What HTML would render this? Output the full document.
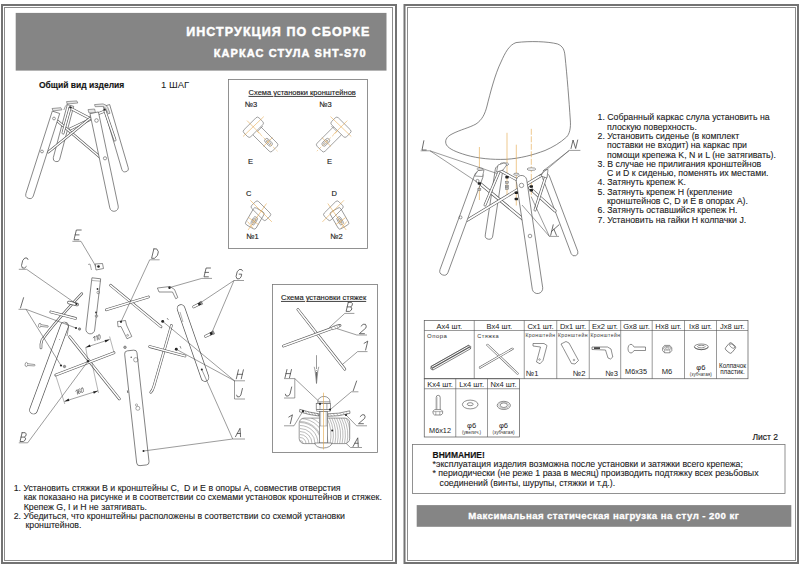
<!DOCTYPE html>
<html><head><meta charset="utf-8">
<style>
html,body{margin:0;padding:0;background:#fff;width:800px;height:565px;overflow:hidden}
svg{position:absolute;left:0;top:0;display:block}
text{font-family:"Liberation Sans",sans-serif;white-space:pre}
.t{font-size:8.77px;fill:#1a1a1a;stroke:#1a1a1a;stroke-width:0.1px}
.w{fill:#fff;font-weight:bold}
.k{stroke:#222;stroke-width:0.14px}
.t text{stroke:#1a1a1a;stroke-width:0.1px}
.lb{font-style:italic;fill:#3a3a3a}
.sm{font-size:5px;fill:#333}
.hd{font-size:7.6px;fill:#1a1a1a}
</style></head><body>
<svg width="800" height="565" viewBox="0 0 800 565">
<g fill="none">
<rect x="2" y="5" width="394" height="558" stroke="#737373" stroke-width="2"/>
<rect x="4.5" y="7.5" width="388" height="553" stroke="#8c8c8c" stroke-width="1"/>
<rect x="404.5" y="5" width="393.5" height="558" stroke="#737373" stroke-width="2"/>
<rect x="407.5" y="7.5" width="388" height="553" stroke="#8c8c8c" stroke-width="1"/>
</g>
<rect x="15.7" y="12.9" width="370.8" height="57.7" fill="#858585"/>
<text class="w" x="186.2" y="36.2" font-size="12.5" letter-spacing="1.07" stroke="#fff" stroke-width="0.45">ИНСТРУКЦИЯ ПО СБОРКЕ</text>
<text class="w" x="213.8" y="57.3" font-size="11" letter-spacing="1.07" stroke="#fff" stroke-width="0.45">КАРКАС СТУЛА SHT-S70</text>
<text class="k" x="39" y="88" font-size="8.5" font-weight="bold" fill="#111">Общий вид изделия</text>
<text x="161" y="88" font-size="9.5" fill="#1a1a1a">1 ШАГ</text>
<rect x="228.5" y="79.5" width="139" height="169" fill="none" stroke="#777" stroke-width="0.8"/>
<text class="k" x="248.6" y="95" font-size="7.5" fill="#222" text-decoration="underline">Схема установки кронштейнов</text>
<rect x="272.5" y="284.5" width="105" height="168" fill="none" stroke="#777" stroke-width="0.8"/>
<text class="k" x="281" y="300" font-size="7.5" fill="#222" text-decoration="underline">Схема установки стяжек</text>
<g class="t">
<text class="k" x="13.7" y="491">1. Установить стяжки В и кронштейны С,  D и Е в опоры А, совместив отверстия</text>
<text class="k" x="23.7" y="500.3">как показано на рисунке и в соответствии со схемами установок кронштейнов и стяжек.</text>
<text class="k" x="23.7" y="509.6">Крепеж G, I и H не затягивать.</text>
<text class="k" x="13.7" y="518.9">2. Убедиться, что кронштейны расположены в соответствии со схемой установки</text>
<text class="k" x="25.5" y="528.2">кронштейнов.</text>
</g>
<g class="t">
<text class="k" x="597.5" y="120.3">1. Собранный каркас слула установить на</text>
<text class="k" x="607" y="129.6">плоскую поверхность.</text>
<text class="k" x="597.5" y="138.9">2. Установить сиденье (в комплект</text>
<text class="k" x="607" y="148.2">поставки не входит) на каркас при</text>
<text class="k" x="607" y="157.5">помощи крепежа K, N и L (не затягивать).</text>
<text class="k" x="597.5" y="166.8">3. В случае не прилигания кронштейнов</text>
<text class="k" x="607" y="176.1">C и D к сиденью, поменять их местами.</text>
<text class="k" x="597.5" y="185.4">4. Затянуть крепеж K.</text>
<text class="k" x="597.5" y="194.7">5. Затянуть крепеж H (крепление</text>
<text class="k" x="607" y="204">кронштейнов C, D и E в опорах A).</text>
<text class="k" x="597.5" y="213.3">6. Затянуть оставшийся крепеж H.</text>
<text class="k" x="597.5" y="222.6">7. Установить на гайки H колпачки J.</text>
</g>
<text class="k" x="752.5" y="440" font-size="8.5" fill="#111">Лист 2</text>
<rect x="412.5" y="444.5" width="372.5" height="49" fill="none" stroke="#777" stroke-width="0.8"/>
<text class="k" x="432.5" y="457.5" font-size="8.5" font-weight="bold" fill="#111">ВНИМАНИЕ!</text>
<g class="t">
<text class="k" x="432.5" y="467">*эксплуатация изделия возможна после установки и затяжки всего крепежа;</text>
<text class="k" x="432.5" y="476.3">* периодически (не реже 1 раза в месяц) производить подтяжку всех резьбовых</text>
<text class="k" x="439.5" y="485.6">соединений (винты, шурупы, стяжки и т.д.).</text>
</g>
<rect x="416.7" y="505.1" width="374.6" height="21.7" fill="#858585"/>
<text class="w" x="468.2" y="518.8" font-size="9.6" letter-spacing="0.45" stroke="#fff" stroke-width="0.3">Максимальная статическая нагрузка на стул - 200 кг</text>

<g><path d="M67.31,104.66 L53.31,157.66 A3.30,3.30 0 0 0 59.69,159.34 L73.69,106.34 Z" fill="#fff" stroke="#555" stroke-width="0.7"/><path d="M103.33,106.43 L121.83,169.43 A3.30,3.30 0 0 0 128.17,167.57 L109.67,104.57 Z" fill="#fff" stroke="#555" stroke-width="0.7"/><line x1="70" y1="108" x2="90" y2="118.5" stroke="#555" stroke-width="2.80" stroke-linecap="round"/><line x1="70" y1="108" x2="90" y2="118.5" stroke="#fff" stroke-width="1.60" stroke-linecap="round"/><line x1="70" y1="129" x2="90" y2="119.5" stroke="#555" stroke-width="2.80" stroke-linecap="round"/><line x1="70" y1="129" x2="90" y2="119.5" stroke="#fff" stroke-width="1.60" stroke-linecap="round"/><line x1="57.5" y1="121" x2="101" y2="158" stroke="#555" stroke-width="2.80" stroke-linecap="round"/><line x1="57.5" y1="121" x2="101" y2="158" stroke="#fff" stroke-width="1.60" stroke-linecap="round"/><line x1="48.5" y1="152" x2="91" y2="117.5" stroke="#555" stroke-width="2.80" stroke-linecap="round"/><line x1="48.5" y1="152" x2="91" y2="117.5" stroke="#fff" stroke-width="1.60" stroke-linecap="round"/><line x1="91" y1="116.5" x2="105" y2="111" stroke="#555" stroke-width="2.80" stroke-linecap="round"/><line x1="91" y1="116.5" x2="105" y2="111" stroke="#fff" stroke-width="1.60" stroke-linecap="round"/><line x1="105" y1="111" x2="115" y2="140" stroke="#555" stroke-width="2.80" stroke-linecap="round"/><line x1="105" y1="111" x2="115" y2="140" stroke="#fff" stroke-width="1.60" stroke-linecap="round"/><line x1="70" y1="108" x2="63" y2="133" stroke="#555" stroke-width="2.80" stroke-linecap="round"/><line x1="70" y1="108" x2="63" y2="133" stroke="#fff" stroke-width="1.60" stroke-linecap="round"/><path d="M52.29,111.11 L25.89,193.61 A3.90,3.90 0 0 0 33.31,195.99 L59.71,113.49 Z" fill="#fff" stroke="#555" stroke-width="0.7"/><path d="M89.99,113.68 L109.79,207.88 A4.30,4.30 0 0 0 118.21,206.12 L98.41,111.92 Z" fill="#fff" stroke="#555" stroke-width="0.7"/><circle cx="54" cy="118.5" r="1.4" stroke="#555" stroke-width="0.6" fill="none"/><circle cx="42" cy="151.5" r="1.4" stroke="#555" stroke-width="0.6" fill="none"/><circle cx="96.5" cy="120.5" r="1.8" stroke="#555" stroke-width="0.6" fill="none"/><circle cx="105" cy="158.3" r="1.6" stroke="#555" stroke-width="0.6" fill="none"/><path d="M52,108.5 L60.8,107.7 L62,109.8 L53.2,111 Z" fill="#e6e6e6" stroke="#555" stroke-width="0.55"/><path d="M66.5,101.6 L76.8,100.9 L77.8,103 L67.2,104 Z" fill="#e6e6e6" stroke="#555" stroke-width="0.55"/><path d="M67.5,103.8 Q65,106 63.8,110" fill="none" stroke="#555" stroke-width="0.55"/><path d="M88,109.6 L94.6,109 L95.4,112.4 L89,113 Z" fill="#e6e6e6" stroke="#555" stroke-width="0.55"/><path d="M94.5,104.6 L103,103.9 Q106.5,104.5 107.8,107.5 L110,113.3 L108.2,113.8 L105.6,108.3 Q104.5,106.3 102,106.5 L95.2,106.7 Z" fill="#e6e6e6" stroke="#555" stroke-width="0.55"/><circle cx="70.5" cy="107.5" r="1.1" fill="#222"/><circle cx="104.5" cy="109.5" r="1.1" fill="#222"/></g>
<g><line x1="64.5" y1="326" x2="33.5" y2="410" stroke="#555" stroke-width="8.60" stroke-linecap="round"/><line x1="64.5" y1="326" x2="33.5" y2="410" stroke="#fff" stroke-width="7.20" stroke-linecap="round"/><line x1="60" y1="339" x2="59" y2="340" stroke="#666" stroke-width="0.5" /><path d="M91.93,277.79 L85.93,328.99 A4.40,4.40 0 0 0 94.67,330.01 L100.67,278.81 Z" fill="#fff" stroke="#555" stroke-width="0.7"/><line x1="92" y1="280.5" x2="100.8" y2="281.2" stroke="#666" stroke-width="0.5" /><circle cx="97.5" cy="289" r="0.9" fill="#333"/><circle cx="98.2" cy="292.5" r="1.3" stroke="#555" stroke-width="0.5" fill="none"/><circle cx="96" cy="312.5" r="0.9" fill="#333"/><circle cx="96.5" cy="316" r="1.3" stroke="#555" stroke-width="0.5" fill="none"/><polyline points="95,264 102.5,263.5 103.5,268.5 96,270 95,264" stroke="#444" stroke-width="0.6" fill="#fff" /><circle cx="98.5" cy="266.5" r="1.3" fill="#222"/><polyline points="88,264.5 90,264 91.5,270" stroke="#555" stroke-width="0.5" fill="none" /><path d="M81.8,293.6 Q55,322 42,340 Q40.5,344 41,348" fill="none" stroke="#555" stroke-width="2.6" stroke-linecap="round"/><path d="M81.8,293.6 Q55,322 42,340 Q40.5,344 41,348" fill="none" stroke="#fff" stroke-width="1.3" stroke-linecap="round"/><path d="M65,322.5 Q68.5,324 68.6,327 L67,336" fill="none" stroke="#555" stroke-width="0.6"/><line x1="69" y1="302.5" x2="77" y2="304.5" stroke="#555" stroke-width="3.60" stroke-linecap="round"/><line x1="69" y1="302.5" x2="77" y2="304.5" stroke="#fff" stroke-width="2.20" stroke-linecap="round"/><circle cx="76.4" cy="304" r="1.1" fill="#222"/><line x1="50.8" y1="312" x2="75.6" y2="318.4" stroke="#555" stroke-width="2.70" stroke-linecap="round"/><line x1="50.8" y1="312" x2="75.6" y2="318.4" stroke="#fff" stroke-width="1.50" stroke-linecap="round"/><g transform="rotate(8 38.6 325.2)"><ellipse cx="39.800000000000004" cy="325.2" rx="1.3" ry="2.1" fill="#fff" stroke="#555" stroke-width="0.55"/><path d="M41.0,324.3 L48.1,324.5 Q48.7,325.2 48.1,325.9 L41.0,326.09999999999997" fill="#fff" stroke="#555" stroke-width="0.55"/></g><g transform="rotate(5 25.2 364.4)"><ellipse cx="26.4" cy="364.4" rx="1.3" ry="2.1" fill="#fff" stroke="#555" stroke-width="0.55"/><path d="M27.599999999999998,363.5 L34.7,363.7 Q35.300000000000004,364.4 34.7,365.09999999999997 L27.599999999999998,365.29999999999995" fill="#fff" stroke="#555" stroke-width="0.55"/></g><circle cx="76" cy="328" r="1.1" fill="#222"/><circle cx="79.5" cy="329" r="1.2" stroke="#555" stroke-width="0.5" fill="#999"/><circle cx="61" cy="365.5" r="1.1" fill="#222"/><circle cx="64.5" cy="366.5" r="1.2" stroke="#555" stroke-width="0.5" fill="#999"/><line x1="69.7" y1="336.8" x2="119.3" y2="398.8" stroke="#555" stroke-width="2.80" stroke-linecap="round"/><line x1="69.7" y1="336.8" x2="119.3" y2="398.8" stroke="#fff" stroke-width="1.60" stroke-linecap="round"/><line x1="55.8" y1="375" x2="114" y2="352.7" stroke="#555" stroke-width="2.80" stroke-linecap="round"/><line x1="55.8" y1="375" x2="114" y2="352.7" stroke="#fff" stroke-width="1.60" stroke-linecap="round"/><circle cx="88" cy="361.2" r="1.2" fill="#222"/><line x1="85.7" y1="347.4" x2="109.6" y2="339.5" stroke="#444" stroke-width="0.5" /><line x1="85.7" y1="347.4" x2="88" y2="361.2" stroke="#444" stroke-width="0.4" /><line x1="109.6" y1="336.5" x2="114" y2="352.7" stroke="#444" stroke-width="0.4" /><path d="M85.7,347.4 l5,-0.6 l-0.9,-2.3 z M109.6,339.5 l-5,0.6 l0.9,2.3 z" fill="#222"/><g transform="rotate(-18 93.5 341.2)"><path d="M94.29,337.90 L96.10,336.80 L95.04,341.20 " fill="none" stroke="#3c3c3c" stroke-width="0.55" stroke-linejoin="round" stroke-linecap="round"/><path d="M96.80,337.90 L98.60,336.80 L97.55,341.20 " fill="none" stroke="#3c3c3c" stroke-width="0.55" stroke-linejoin="round" stroke-linecap="round"/><path d="M100.67,336.80 L101.45,337.24 L101.40,338.34 L101.09,339.66 L100.60,340.76 L99.62,341.20 L98.84,340.76 L98.89,339.66 L99.20,338.34 L99.69,337.24 L100.67,336.80 " fill="none" stroke="#3c3c3c" stroke-width="0.55" stroke-linejoin="round" stroke-linecap="round"/></g><line x1="64.4" y1="401.4" x2="98" y2="390.8" stroke="#444" stroke-width="0.5" /><line x1="55.4" y1="374.5" x2="64.8" y2="404" stroke="#444" stroke-width="0.4" /><line x1="91.9" y1="363" x2="98.5" y2="393" stroke="#444" stroke-width="0.4" /><path d="M64.4,401.4 l5,-0.5 l-0.8,-2.3 z M98,390.8 l-5,0.6 l0.9,2.3 z" fill="#222"/><g transform="rotate(-18 76 394.6)"><path d="M76.79,391.30 L78.60,390.20 L77.54,394.60 " fill="none" stroke="#3c3c3c" stroke-width="0.55" stroke-linejoin="round" stroke-linecap="round"/><path d="M81.55,390.64 L80.88,390.20 L80.17,390.42 L79.30,391.74 L78.82,393.28 L78.89,394.38 L79.61,394.60 L80.57,394.25 L81.02,393.28 L80.91,392.40 L80.19,392.18 L79.31,392.62 L78.82,393.28 " fill="none" stroke="#3c3c3c" stroke-width="0.55" stroke-linejoin="round" stroke-linecap="round"/><path d="M83.83,390.20 L84.61,390.64 L84.56,391.74 L84.25,393.06 L83.76,394.16 L82.78,394.60 L82.00,394.16 L82.05,393.06 L82.36,391.74 L82.85,390.64 L83.83,390.20 " fill="none" stroke="#3c3c3c" stroke-width="0.55" stroke-linejoin="round" stroke-linecap="round"/></g><line x1="110.6" y1="285.3" x2="161" y2="326.8" stroke="#555" stroke-width="2.70" stroke-linecap="round"/><line x1="110.6" y1="285.3" x2="161" y2="326.8" stroke="#fff" stroke-width="1.50" stroke-linecap="round"/><line x1="106.4" y1="309.8" x2="148.4" y2="297" stroke="#555" stroke-width="2.70" stroke-linecap="round"/><line x1="106.4" y1="309.8" x2="148.4" y2="297" stroke="#fff" stroke-width="1.50" stroke-linecap="round"/><path d="M117.5,321.5 L125.5,320.5 L126.5,325 L131.8,336.5 L127,338.8 L121,326.5 L118,326.8 Z" fill="#fff" stroke="#444" stroke-width="0.6"/><circle cx="121" cy="321.8" r="1.1" fill="#222"/><circle cx="127.6" cy="335.3" r="0.9" stroke="#555" stroke-width="0.5" fill="none"/><path d="M157.4,288 L170,286.5 L174.5,289.5 L177.8,297.5 L175.8,298.8 L172.5,292 L159,292 Z" fill="#fff" stroke="#444" stroke-width="0.6"/><circle cx="169.5" cy="287.8" r="1.2" fill="#222"/><line x1="181" y1="308.5" x2="205" y2="377.5" stroke="#555" stroke-width="8.40" stroke-linecap="round"/><line x1="181" y1="308.5" x2="205" y2="377.5" stroke="#fff" stroke-width="7.00" stroke-linecap="round"/><line x1="180" y1="312" x2="183" y2="322" stroke="#666" stroke-width="0.5" /><circle cx="201.8" cy="369.6" r="1" fill="#222"/><line x1="193.8" y1="306.8" x2="198.25021682429335" y2="304.52062065097175" stroke="#555" stroke-width="2.90" stroke-linecap="round"/><line x1="193.8" y1="306.8" x2="198.25021682429335" y2="304.52062065097175" stroke="#fff" stroke-width="1.80" stroke-linecap="round"/><rect x="198.80" y="305.30" width="2.6" height="3" fill="#222" transform="rotate(-27.1 193.8 306.8)"/><rect x="201.40" y="305.10" width="1.6" height="3.4" fill="#999" stroke="#555" stroke-width="0.4" transform="rotate(-27.1 193.8 306.8)"/><line x1="205.6" y1="336.2" x2="210.12941176470588" y2="334.08235294117645" stroke="#555" stroke-width="2.90" stroke-linecap="round"/><line x1="205.6" y1="336.2" x2="210.12941176470588" y2="334.08235294117645" stroke="#fff" stroke-width="1.80" stroke-linecap="round"/><rect x="210.60" y="334.70" width="2.6" height="3" fill="#222" transform="rotate(-25.1 205.6 336.2)"/><rect x="213.20" y="334.50" width="1.6" height="3.4" fill="#999" stroke="#555" stroke-width="0.4" transform="rotate(-25.1 205.6 336.2)"/><path d="M171.4,325.5 L153.8,386.5 Q152.6,390.5 150.8,392.3" fill="none" stroke="#555" stroke-width="2.7" stroke-linecap="round"/><path d="M171.4,325.5 L153.8,386.5 Q152.6,390.5 150.8,392.3" fill="none" stroke="#fff" stroke-width="1.5" stroke-linecap="round"/><circle cx="162.7" cy="321.4" r="1.45" fill="#222"/><line x1="167" y1="318" x2="168.5" y2="320" stroke="#444" stroke-width="0.6" /><line x1="149.7" y1="346.6" x2="185" y2="356" stroke="#555" stroke-width="2.80" stroke-linecap="round"/><line x1="149.7" y1="346.6" x2="185" y2="356" stroke="#fff" stroke-width="1.60" stroke-linecap="round"/><circle cx="176.3" cy="349.3" r="1.45" fill="#222"/><line x1="180" y1="346" x2="181" y2="348.5" stroke="#444" stroke-width="0.6" /><rect x="130.50" y="344.30" width="115.50" height="12.4" rx="3" transform="rotate(83.69 130.5 350.5)" fill="#fff" stroke="#555" stroke-width="0.7"/><circle cx="125" cy="347.3" r="1.3" stroke="#555" stroke-width="0.5" fill="#aaa"/><circle cx="135.8" cy="359.8" r="2.2" stroke="#555" stroke-width="0.5" fill="none"/><circle cx="131.2" cy="357.2" r="0.7" fill="#444"/><line x1="127.4" y1="390.5" x2="127.9" y2="393" stroke="#444" stroke-width="0.8" /><circle cx="137.8" cy="408.3" r="2" stroke="#555" stroke-width="0.5" fill="none"/><circle cx="136.5" cy="405" r="1.1" stroke="#555" stroke-width="0.45" fill="none"/><circle cx="143.5" cy="451" r="1" fill="#222"/><path d="M81.22,230.00 L76.34,230.00 L74.00,239.75 L78.88,239.75 M75.17,234.88 L79.07,234.88 " fill="none" stroke="#3c3c3c" stroke-width="0.75" stroke-linejoin="round" stroke-linecap="round"/><line x1="72.4" y1="241.3" x2="81" y2="241.3" stroke="#4a4a4a" stroke-width="0.55" /><line x1="81" y1="241.3" x2="96" y2="266.5" stroke="#4a4a4a" stroke-width="0.55" /><path d="M27.94,259.50 L27.05,258.00 L24.80,258.00 L22.70,260.50 L21.50,265.50 L22.40,268.00 L24.65,268.00 L26.26,266.50 " fill="none" stroke="#3c3c3c" stroke-width="0.75" stroke-linejoin="round" stroke-linecap="round"/><line x1="18.8" y1="269.3" x2="26.6" y2="269.3" stroke="#4a4a4a" stroke-width="0.55" /><line x1="26.6" y1="269.3" x2="76.4" y2="304" stroke="#4a4a4a" stroke-width="0.55" /><path d="M23.56,297.70 L20.50,307.90 " fill="none" stroke="#3c3c3c" stroke-width="0.75" stroke-linejoin="round" stroke-linecap="round"/><line x1="18.5" y1="309.3" x2="26" y2="309.3" stroke="#4a4a4a" stroke-width="0.55" /><line x1="26" y1="309.3" x2="76" y2="328" stroke="#4a4a4a" stroke-width="0.55" /><line x1="26" y1="309.3" x2="61" y2="365.5" stroke="#4a4a4a" stroke-width="0.55" /><path d="M153.86,248.90 L151.60,258.30 L154.44,258.30 L157.45,255.48 L158.35,251.72 L156.70,248.90 L153.86,248.90 " fill="none" stroke="#3c3c3c" stroke-width="0.75" stroke-linejoin="round" stroke-linecap="round"/><line x1="149.7" y1="259.8" x2="159.6" y2="259.8" stroke="#4a4a4a" stroke-width="0.55" /><line x1="149.7" y1="259.8" x2="121" y2="321.8" stroke="#4a4a4a" stroke-width="0.55" /><path d="M210.51,268.00 L206.11,268.00 L204.00,276.80 L208.40,276.80 M205.06,272.40 L208.58,272.40 " fill="none" stroke="#3c3c3c" stroke-width="0.75" stroke-linejoin="round" stroke-linecap="round"/><line x1="201.8" y1="278.4" x2="212" y2="278.4" stroke="#4a4a4a" stroke-width="0.55" /><line x1="201.8" y1="278.4" x2="169.5" y2="287.6" stroke="#4a4a4a" stroke-width="0.55" /><path d="M242.51,270.89 L241.57,269.50 L239.27,269.50 L237.17,271.82 L236.06,276.48 L237.03,278.80 L239.34,278.80 L241.06,276.94 L241.73,274.15 L239.17,274.15 " fill="none" stroke="#3c3c3c" stroke-width="0.75" stroke-linejoin="round" stroke-linecap="round"/><line x1="234" y1="280.5" x2="244" y2="280.5" stroke="#4a4a4a" stroke-width="0.55" /><line x1="234" y1="280.5" x2="198" y2="304.4" stroke="#4a4a4a" stroke-width="0.55" /><line x1="234" y1="280.5" x2="211.7" y2="333" stroke="#4a4a4a" stroke-width="0.55" /><path d="M238.46,369.80 L236.30,378.80 M243.41,369.80 L241.25,378.80 M237.38,374.30 L242.33,374.30 " fill="none" stroke="#3c3c3c" stroke-width="0.75" stroke-linejoin="round" stroke-linecap="round"/><line x1="234" y1="380.8" x2="245" y2="380.8" stroke="#4a4a4a" stroke-width="0.55" /><line x1="234.5" y1="380.8" x2="162.7" y2="321.4" stroke="#4a4a4a" stroke-width="0.55" /><line x1="234.5" y1="380.8" x2="176.3" y2="349.3" stroke="#4a4a4a" stroke-width="0.55" /><path d="M242.44,388.50 L240.89,394.97 L239.41,396.80 L237.34,396.80 L236.70,395.14 " fill="none" stroke="#3c3c3c" stroke-width="0.75" stroke-linejoin="round" stroke-linecap="round"/><line x1="234.5" y1="380.8" x2="234.5" y2="399" stroke="#4a4a4a" stroke-width="0.55" /><line x1="234.5" y1="399" x2="245" y2="399" stroke="#4a4a4a" stroke-width="0.55" /><path d="M235.50,436.70 L240.04,428.30 L240.54,436.70 M237.27,433.51 L240.30,433.51 " fill="none" stroke="#3c3c3c" stroke-width="0.75" stroke-linejoin="round" stroke-linecap="round"/><line x1="232.7" y1="439" x2="245" y2="439" stroke="#4a4a4a" stroke-width="0.55" /><line x1="232.7" y1="439" x2="201.8" y2="369.6" stroke="#4a4a4a" stroke-width="0.55" /><line x1="232.7" y1="439" x2="143.5" y2="451" stroke="#4a4a4a" stroke-width="0.55" /><path d="M22.11,432.70 L20.00,441.50 L23.39,441.50 L25.16,440.18 L25.64,438.16 L24.44,437.10 L21.06,437.10 M24.44,437.10 L25.76,436.04 L26.25,434.02 L25.26,432.70 L22.11,432.70 " fill="none" stroke="#3c3c3c" stroke-width="0.75" stroke-linejoin="round" stroke-linecap="round"/><line x1="18.8" y1="442.8" x2="27.7" y2="442.8" stroke="#4a4a4a" stroke-width="0.55" /><line x1="27.7" y1="442.8" x2="88" y2="361.2" stroke="#4a4a4a" stroke-width="0.55" /></g>
<g><rect x="251.70" y="133.55" width="27" height="11.3" rx="2.2" transform="rotate(45 265.2 139.2)" stroke="#6a6a6a" stroke-width="0.6" fill="none"/><rect x="242.70" y="122.40" width="21.3" height="9.7" rx="2.2" transform="rotate(-45 253.35 127.25)" stroke="#6a6a6a" stroke-width="0.6" fill="#fff"/><line x1="257.5" y1="131.5" x2="263" y2="126" stroke="#6a6a6a" stroke-width="0.5" /><rect x="264.00" y="140.10" width="9" height="4.4" rx="2.2" transform="rotate(45 268.5 142.3)" stroke="#6a6a6a" stroke-width="0.6" fill="none"/><rect x="266.00" y="141.30" width="5" height="2" rx="1" transform="rotate(45 268.5 142.3)" stroke="#6a6a6a" stroke-width="0.6" fill="none"/><line x1="243" y1="136.5" x2="263.8" y2="116.6" stroke="#e3a443" stroke-width="0.55"/><line x1="247" y1="120.6" x2="260.7" y2="134.3" stroke="#e3a443" stroke-width="0.55"/><line x1="257" y1="131.2" x2="277.5" y2="151.2" stroke="#e3a443" stroke-width="0.5" stroke-dasharray="3,1.5"/><line x1="263.3" y1="146.5" x2="272.5" y2="137.5" stroke="#e3a443" stroke-width="0.55"/><rect x="245.05" y="212.40" width="19.5" height="12" rx="2.2" transform="rotate(120 254.8 218.4)" stroke="#6a6a6a" stroke-width="0.6" fill="none"/><rect x="250.65" y="205.90" width="20.5" height="9.7" rx="2.2" transform="rotate(45 260.9 210.75)" stroke="#6a6a6a" stroke-width="0.6" fill="none"/><rect x="249.90" y="218.70" width="8.6" height="4.2" rx="2.1" transform="rotate(120 254.2 220.8)" stroke="#6a6a6a" stroke-width="0.6" fill="none"/><rect x="251.80" y="219.90" width="4.8" height="1.8" rx="0.9" transform="rotate(120 254.2 220.8)" stroke="#6a6a6a" stroke-width="0.6" fill="none"/><line x1="248.1" y1="230" x2="266.5" y2="203.5" stroke="#e3a443" stroke-width="0.55"/><line x1="250.3" y1="200.3" x2="271.9" y2="221.9" stroke="#e3a443" stroke-width="0.55"/><line x1="248.5" y1="217.5" x2="258.5" y2="224.5" stroke="#e3a443" stroke-width="0.55"/><line x1="247.5" y1="221.5" x2="253" y2="228" stroke="#e3a443" stroke-width="0.55"/></g>
<g transform="matrix(-1,0,0,1,594.3,0)"><rect x="251.70" y="133.55" width="27" height="11.3" rx="2.2" transform="rotate(45 265.2 139.2)" stroke="#6a6a6a" stroke-width="0.6" fill="none"/><rect x="242.70" y="122.40" width="21.3" height="9.7" rx="2.2" transform="rotate(-45 253.35 127.25)" stroke="#6a6a6a" stroke-width="0.6" fill="#fff"/><line x1="257.5" y1="131.5" x2="263" y2="126" stroke="#6a6a6a" stroke-width="0.5" /><rect x="264.00" y="140.10" width="9" height="4.4" rx="2.2" transform="rotate(45 268.5 142.3)" stroke="#6a6a6a" stroke-width="0.6" fill="none"/><rect x="266.00" y="141.30" width="5" height="2" rx="1" transform="rotate(45 268.5 142.3)" stroke="#6a6a6a" stroke-width="0.6" fill="none"/><line x1="243" y1="136.5" x2="263.8" y2="116.6" stroke="#e3a443" stroke-width="0.55"/><line x1="247" y1="120.6" x2="260.7" y2="134.3" stroke="#e3a443" stroke-width="0.55"/><line x1="257" y1="131.2" x2="277.5" y2="151.2" stroke="#e3a443" stroke-width="0.5" stroke-dasharray="3,1.5"/><line x1="263.3" y1="146.5" x2="272.5" y2="137.5" stroke="#e3a443" stroke-width="0.55"/><rect x="245.05" y="212.40" width="19.5" height="12" rx="2.2" transform="rotate(120 254.8 218.4)" stroke="#6a6a6a" stroke-width="0.6" fill="none"/><rect x="250.65" y="205.90" width="20.5" height="9.7" rx="2.2" transform="rotate(45 260.9 210.75)" stroke="#6a6a6a" stroke-width="0.6" fill="none"/><rect x="249.90" y="218.70" width="8.6" height="4.2" rx="2.1" transform="rotate(120 254.2 220.8)" stroke="#6a6a6a" stroke-width="0.6" fill="none"/><rect x="251.80" y="219.90" width="4.8" height="1.8" rx="0.9" transform="rotate(120 254.2 220.8)" stroke="#6a6a6a" stroke-width="0.6" fill="none"/><line x1="248.1" y1="230" x2="266.5" y2="203.5" stroke="#e3a443" stroke-width="0.55"/><line x1="250.3" y1="200.3" x2="271.9" y2="221.9" stroke="#e3a443" stroke-width="0.55"/><line x1="248.5" y1="217.5" x2="258.5" y2="224.5" stroke="#e3a443" stroke-width="0.55"/><line x1="247.5" y1="221.5" x2="253" y2="228" stroke="#e3a443" stroke-width="0.55"/></g>
<g font-size="7.5" fill="#1a1a1a" class="k"><text class="k" x="245" y="107">№3</text><text class="k" x="319.5" y="107">№3</text><text class="k" x="248" y="164">E</text><text class="k" x="327" y="164">E</text><text class="k" x="246" y="196">C</text><text class="k" x="331.5" y="196">D</text><text class="k" x="246.5" y="239">№1</text><text class="k" x="330.5" y="239">№2</text></g>
<defs><clipPath id="wb"><rect x="299.2" y="418.1" width="50.5" height="25.5" rx="5"/></clipPath></defs>
<g><line x1="297.9" y1="309.5" x2="344.8" y2="369.2" stroke="#555" stroke-width="2.80" stroke-linecap="round"/><line x1="297.9" y1="309.5" x2="344.8" y2="369.2" stroke="#fff" stroke-width="1.60" stroke-linecap="round"/><line x1="283.5" y1="346" x2="340" y2="325.4" stroke="#555" stroke-width="2.80" stroke-linecap="round"/><line x1="283.5" y1="346" x2="340" y2="325.4" stroke="#fff" stroke-width="1.60" stroke-linecap="round"/><path d="M331,327.5 l6,-2.6 l3.2,0.4 l-1.5,2.6 l-6,1.8 z" fill="#fff" stroke="#555" stroke-width="0.5"/><line x1="334" y1="325.5" x2="336" y2="329" stroke="#555" stroke-width="0.4" /><line x1="336.5" y1="324.8" x2="338" y2="328" stroke="#555" stroke-width="0.4" /><path d="M348.26,302.40 L346.10,311.40 L349.56,311.40 L351.37,310.05 L351.87,307.98 L350.64,306.90 L347.18,306.90 M350.64,306.90 L351.99,305.82 L352.49,303.75 L351.48,302.40 L348.26,302.40 " fill="none" stroke="#3c3c3c" stroke-width="0.75" stroke-linejoin="round" stroke-linecap="round"/><line x1="344.8" y1="313.4" x2="354.4" y2="313.4" stroke="#4a4a4a" stroke-width="0.55" /><line x1="344.8" y1="313.4" x2="329" y2="327.8" stroke="#4a4a4a" stroke-width="0.55" /><path d="M361.10,326.18 L363.11,324.30 L365.43,324.30 L366.27,326.18 L365.82,328.06 L359.30,333.70 L364.47,333.70 " fill="none" stroke="#3c3c3c" stroke-width="0.75" stroke-linejoin="round" stroke-linecap="round"/><line x1="356.8" y1="335" x2="367" y2="335" stroke="#4a4a4a" stroke-width="0.55" /><line x1="356.8" y1="335" x2="336.9" y2="328.6" stroke="#4a4a4a" stroke-width="0.55" /><path d="M364.10,343.33 L367.75,341.10 L365.62,350.00 " fill="none" stroke="#3c3c3c" stroke-width="0.75" stroke-linejoin="round" stroke-linecap="round"/><line x1="357.6" y1="351.6" x2="367.5" y2="351.6" stroke="#4a4a4a" stroke-width="0.55" /><line x1="357.6" y1="351.6" x2="342.5" y2="364.4" stroke="#4a4a4a" stroke-width="0.55" /><line x1="316.5" y1="355.2" x2="316.5" y2="369" stroke="#555" stroke-width="0.6" /><path d="M314.2,366.8 Q314.8,369 315.2,371.5 L316.5,383.5 L317.8,371.5 Q318.2,369 318.8,366.8 M315.2,371.5 Q316.5,369.5 317.8,371.5" fill="none" stroke="#555" stroke-width="0.55"/><path d="M315.6,372 L316.5,383.5 L317.4,372 Z" fill="#666"/><path d="M286.97,369.50 L285.00,377.70 M291.48,369.50 L289.51,377.70 M285.98,373.60 L290.49,373.60 " fill="none" stroke="#3c3c3c" stroke-width="0.75" stroke-linejoin="round" stroke-linecap="round"/><line x1="284" y1="378.6" x2="294.8" y2="378.6" stroke="#4a4a4a" stroke-width="0.55" /><line x1="294.8" y1="378.6" x2="320.4" y2="402.8" stroke="#4a4a4a" stroke-width="0.55" /><path d="M291.66,387.00 L289.98,394.02 L288.38,396.00 L286.12,396.00 L285.43,394.20 " fill="none" stroke="#3c3c3c" stroke-width="0.75" stroke-linejoin="round" stroke-linecap="round"/><line x1="294.8" y1="378.6" x2="294.8" y2="398" stroke="#4a4a4a" stroke-width="0.55" /><line x1="284" y1="398" x2="294.8" y2="398" stroke="#4a4a4a" stroke-width="0.55" /><path d="M356.63,381.00 L353.20,390.80 " fill="none" stroke="#3c3c3c" stroke-width="0.75" stroke-linejoin="round" stroke-linecap="round"/><line x1="351.3" y1="391.8" x2="358.4" y2="391.8" stroke="#4a4a4a" stroke-width="0.55" /><line x1="351.3" y1="391.8" x2="330" y2="409.8" stroke="#4a4a4a" stroke-width="0.55" /><path d="M288.80,417.03 L292.45,414.80 L290.31,423.70 " fill="none" stroke="#3c3c3c" stroke-width="0.75" stroke-linejoin="round" stroke-linecap="round"/><line x1="284" y1="425.8" x2="294" y2="425.8" stroke="#4a4a4a" stroke-width="0.55" /><line x1="294" y1="425.8" x2="302.7" y2="411.5" stroke="#4a4a4a" stroke-width="0.55" /><path d="M360.21,416.58 L362.10,414.80 L364.31,414.80 L365.10,416.58 L364.68,418.36 L358.50,423.70 L363.39,423.70 " fill="none" stroke="#3c3c3c" stroke-width="0.75" stroke-linejoin="round" stroke-linecap="round"/><line x1="356.6" y1="425.8" x2="367" y2="425.8" stroke="#4a4a4a" stroke-width="0.55" /><line x1="356.6" y1="425.8" x2="346" y2="415" stroke="#4a4a4a" stroke-width="0.55" /><path d="M353.00,446.60 L357.75,437.80 L358.28,446.60 M354.86,443.26 L358.03,443.26 " fill="none" stroke="#3c3c3c" stroke-width="0.75" stroke-linejoin="round" stroke-linecap="round"/><line x1="350.5" y1="447.5" x2="362" y2="447.5" stroke="#4a4a4a" stroke-width="0.55" /><line x1="350.5" y1="447.5" x2="332.2" y2="430.4" stroke="#4a4a4a" stroke-width="0.55" /><rect x="299.2" y="418.1" width="50.5" height="25.5" rx="5" fill="#fff" stroke="#555" stroke-width="0.6"/><path d="M300.0,440.5 A3,3 0 0 1 303.0,443.5" fill="none" stroke="#666" stroke-width="0.45" transform="translate(0,0)"/><path d="M300.0,437.5 A6,6 0 0 1 306.0,443.5" fill="none" stroke="#666" stroke-width="0.45" transform="translate(0,0)"/><path d="M300.0,434.5 A9,9 0 0 1 309.0,443.5" fill="none" stroke="#666" stroke-width="0.45" transform="translate(0,0)"/><path d="M300.0,431.5 A12,12 0 0 1 312.0,443.5" fill="none" stroke="#666" stroke-width="0.45" transform="translate(0,0)"/><path d="M300.0,428.5 A15,15 0 0 1 315.0,443.5" fill="none" stroke="#666" stroke-width="0.45" transform="translate(0,0)"/><path d="M300.0,425.5 A18,18 0 0 1 318.0,443.5" fill="none" stroke="#666" stroke-width="0.45" transform="translate(0,0)"/><path d="M300.0,422.5 A21,21 0 0 1 321.0,443.5" fill="none" stroke="#666" stroke-width="0.45" transform="translate(0,0)"/><g clip-path="url(#wb)"><path d="M327.0,418 Q333.0,430 330.0,444" fill="none" stroke="#666" stroke-width="0.45"/><path d="M329.4,418 Q335.4,430 332.4,444" fill="none" stroke="#666" stroke-width="0.45"/><path d="M331.8,418 Q337.8,430 334.8,444" fill="none" stroke="#666" stroke-width="0.45"/><path d="M334.2,418 Q340.2,430 337.2,444" fill="none" stroke="#666" stroke-width="0.45"/><path d="M336.6,418 Q342.6,430 339.6,444" fill="none" stroke="#666" stroke-width="0.45"/><path d="M339.0,418 Q345.0,430 342.0,444" fill="none" stroke="#666" stroke-width="0.45"/><path d="M341.4,418 Q347.4,430 344.4,444" fill="none" stroke="#666" stroke-width="0.45"/><path d="M343.8,418 Q349.8,430 346.8,444" fill="none" stroke="#666" stroke-width="0.45"/><path d="M346.2,418 Q352.2,430 349.2,444" fill="none" stroke="#666" stroke-width="0.45"/><path d="M348.6,418 Q354.6,430 351.6,444" fill="none" stroke="#666" stroke-width="0.45"/><path d="M351.0,418 Q357.0,430 354.0,444" fill="none" stroke="#666" stroke-width="0.45"/><path d="M353.4,418 Q359.4,430 356.4,444" fill="none" stroke="#666" stroke-width="0.45"/><path d="M300,421.5 A22,22 0 0 1 322,443.5" fill="none" stroke="#666" stroke-width="0.45"/><path d="M300,418.5 A25,25 0 0 1 325,443.5" fill="none" stroke="#666" stroke-width="0.45"/><path d="M300,415.5 A28,28 0 0 1 328,443.5" fill="none" stroke="#666" stroke-width="0.45"/></g><rect x="319.4" y="411.2" width="8" height="31.8" fill="#fff" stroke="#555" stroke-width="0.6"/><line x1="320.6" y1="411.5" x2="320.6" y2="426" stroke="#666" stroke-width="0.4" /><line x1="326.2" y1="411.5" x2="326.2" y2="426" stroke="#666" stroke-width="0.4" /><line x1="319.4" y1="426" x2="327.4" y2="426" stroke="#666" stroke-width="0.4" /><path d="M314.8,443 A8.5,5 0 0 0 331.8,443 Z" fill="#fff" stroke="#555" stroke-width="0.6"/><path d="M299.8,409.3 Q309,412.5 318.9,413.8 L318.9,416 Q309,415 299.5,411.8 Z" fill="#fff" stroke="#444" stroke-width="0.6"/><path d="M327.9,413.8 Q339,414 349.7,410.8 L350,413.3 Q339,416.5 327.9,416.3 Z" fill="#fff" stroke="#444" stroke-width="0.6"/><line x1="302" y1="410.5" x2="304" y2="413.3" stroke="#555" stroke-width="0.4" /><line x1="330.0" y1="414.3" x2="332.0" y2="416.3" stroke="#555" stroke-width="0.4" /><line x1="305" y1="411.0" x2="307" y2="413.90000000000003" stroke="#555" stroke-width="0.4" /><line x1="333.2" y1="414.0" x2="335.2" y2="415.8" stroke="#555" stroke-width="0.4" /><line x1="308" y1="411.5" x2="310" y2="414.5" stroke="#555" stroke-width="0.4" /><line x1="336.4" y1="413.7" x2="338.4" y2="415.3" stroke="#555" stroke-width="0.4" /><line x1="311" y1="412.0" x2="313" y2="415.1" stroke="#555" stroke-width="0.4" /><line x1="339.6" y1="413.40000000000003" x2="341.6" y2="414.8" stroke="#555" stroke-width="0.4" /><line x1="314" y1="412.5" x2="316" y2="415.7" stroke="#555" stroke-width="0.4" /><line x1="342.8" y1="413.1" x2="344.8" y2="414.3" stroke="#555" stroke-width="0.4" /><line x1="317" y1="413.0" x2="319" y2="416.3" stroke="#555" stroke-width="0.4" /><line x1="346.0" y1="412.8" x2="348.0" y2="413.8" stroke="#555" stroke-width="0.4" /><rect x="316.8" y="409.6" width="13.8" height="1.6" fill="#fff" stroke="#555" stroke-width="0.5"/><rect x="316.2" y="403.3" width="14.4" height="6.3" fill="#fff" stroke="#555" stroke-width="0.6"/><line x1="320" y1="403.3" x2="320" y2="409.6" stroke="#555" stroke-width="0.5" /><line x1="326.9" y1="403.3" x2="326.9" y2="409.6" stroke="#555" stroke-width="0.5" /><path d="M317.8,401.7 A6.1,5.3 0 0 1 330,401.7 L330,403.3 L317.8,403.3 Z" fill="#fff" stroke="#555" stroke-width="0.6"/><line x1="317.8" y1="401.7" x2="330" y2="401.7" stroke="#555" stroke-width="0.5" /><line x1="323.5" y1="392.7" x2="323.5" y2="449.5" stroke="#e3a443" stroke-width="0.6"/><circle cx="320" cy="403.8" r="1.1" fill="#222"/><circle cx="330" cy="409.6" r="1.1" fill="#222"/><circle cx="303" cy="411.2" r="1.1" fill="#222"/><circle cx="346" cy="415" r="1.1" fill="#222"/><circle cx="332.2" cy="430.4" r="1" fill="#222"/></g>
<g><path d="M516,42.6 C530,40.8 548,41.5 557.3,43.9 C563,46 564.5,50 565,56 C567,75 569,100 570.3,120 C571,128 569.5,134 566.6,137 C560,143 553,147 545,150.5 C533,155 520,158.5 506,159.3 C492,159.8 478,158.5 466,155 C456,152 449,149 446.5,145 C444.5,141 446,137 452,134 C460,129.8 470,127.5 476,124 C482,120 485,114 487,106 C490,94 495,74 501,62 C505,53 509,45 516,42.6 Z" fill="none" stroke="#555" stroke-width="0.7"/><line x1="479.4" y1="147" x2="479.4" y2="200" stroke="#e3a443" stroke-width="0.6"/><line x1="507" y1="132.8" x2="507" y2="196" stroke="#e3a443" stroke-width="0.6"/><line x1="516.3" y1="144.7" x2="516.3" y2="205.5" stroke="#e3a443" stroke-width="0.6"/><line x1="531.3" y1="128.8" x2="531.3" y2="197" stroke="#e3a443" stroke-width="0.6" stroke-dasharray="6,1.5"/><path d="M495.29,169.43 L485.29,234.93 A3.75,3.75 0 0 0 492.71,236.07 L502.71,170.57 A3.75,3.75 0 0 0 495.29,169.43 Z" fill="#fff" stroke="#555" stroke-width="0.7"/><path d="M542.73,178.24 L571.23,253.74 A3.50,3.50 0 0 0 577.77,251.26 L549.27,175.76 A3.50,3.50 0 0 0 542.73,178.24 Z" fill="#fff" stroke="#555" stroke-width="0.7"/><line x1="477" y1="181" x2="524" y2="220" stroke="#555" stroke-width="3.10" stroke-linecap="round"/><line x1="477" y1="181" x2="524" y2="220" stroke="#fff" stroke-width="1.90" stroke-linecap="round"/><line x1="467.5" y1="220" x2="541" y2="175.5" stroke="#555" stroke-width="3.10" stroke-linecap="round"/><line x1="467.5" y1="220" x2="541" y2="175.5" stroke="#fff" stroke-width="1.90" stroke-linecap="round"/><line x1="499" y1="170" x2="521" y2="182" stroke="#555" stroke-width="2.90" stroke-linecap="round"/><line x1="499" y1="170" x2="521" y2="182" stroke="#fff" stroke-width="1.70" stroke-linecap="round"/><line x1="529.5" y1="187.8" x2="555" y2="210.9" stroke="#555" stroke-width="3.10" stroke-linecap="round"/><line x1="529.5" y1="187.8" x2="555" y2="210.9" stroke="#fff" stroke-width="1.90" stroke-linecap="round"/><line x1="499" y1="172" x2="485" y2="205" stroke="#555" stroke-width="2.80" stroke-linecap="round"/><line x1="499" y1="172" x2="485" y2="205" stroke="#fff" stroke-width="1.60" stroke-linecap="round"/><line x1="546" y1="176" x2="535" y2="210" stroke="#555" stroke-width="2.80" stroke-linecap="round"/><line x1="546" y1="176" x2="535" y2="210" stroke="#fff" stroke-width="1.60" stroke-linecap="round"/><path d="M474.81,174.54 L440.01,269.54 A4.25,4.25 0 0 0 447.99,272.46 L482.79,177.46 A4.25,4.25 0 0 0 474.81,174.54 Z" fill="#fff" stroke="#555" stroke-width="0.7"/><path d="M516.31,181.27 L532.31,289.27 A5.25,5.25 0 0 0 542.69,287.73 L526.69,179.73 A5.25,5.25 0 0 0 516.31,181.27 Z" fill="#fff" stroke="#555" stroke-width="0.7"/><circle cx="477.5" cy="181" r="1.6" stroke="#555" stroke-width="0.6" fill="none"/><circle cx="460.5" cy="217.4" r="1.5" stroke="#555" stroke-width="0.6" fill="none"/><circle cx="521.5" cy="185.4" r="2.2" stroke="#555" stroke-width="0.6" fill="none"/><circle cx="530" cy="236" r="1.8" stroke="#555" stroke-width="0.6" fill="none"/><ellipse cx="504.4" cy="164.2" rx="4.4" ry="1.4" transform="rotate(0 504.4 164.2)" stroke="#555" stroke-width="0.6" fill="#fff"/><ellipse cx="516.3" cy="174.2" rx="2.8" ry="1" transform="rotate(0 516.3 174.2)" stroke="#555" stroke-width="0.6" fill="#fff"/><ellipse cx="531.4" cy="169.1" rx="4.4" ry="1.3" transform="rotate(0 531.4 169.1)" stroke="#555" stroke-width="0.6" fill="#fff"/><path d="M496.5,172 L498,165 L504,163 L507,164.5 L503,170 Z" fill="#fff" stroke="#555" stroke-width="0.6"/><path d="M541,176 L544,170 L548,169.5 L547,178 Z" fill="#fff" stroke="#555" stroke-width="0.6"/><path d="M474.5,176 L478,170.5 L484,170 L482.5,176.5 Z" fill="#fff" stroke="#555" stroke-width="0.6"/><ellipse cx="480" cy="169" rx="3.2" ry="1.1" transform="rotate(0 480 169)" stroke="#555" stroke-width="0.5" fill="#fff"/><rect x="477.7" y="182.3" width="3.4" height="2.4" rx="0.6" fill="#222"/><rect x="477.9" y="188.6" width="3" height="1.8" fill="#bbb" stroke="#555" stroke-width="0.4"/><rect x="505.3" y="176.0" width="3.4" height="2.4" rx="0.6" fill="#222"/><rect x="505.5" y="181.6" width="3" height="1.8" fill="#bbb" stroke="#555" stroke-width="0.4"/><rect x="505.5" y="185.1" width="3" height="1.8" fill="#bbb" stroke="#555" stroke-width="0.4"/><rect x="505.5" y="187.6" width="3" height="1.8" fill="#bbb" stroke="#555" stroke-width="0.4"/><rect x="514.5999999999999" y="191.5" width="3.4" height="2.4" rx="0.6" fill="#222"/><rect x="514.5999999999999" y="197.8" width="3.4" height="2.4" rx="0.6" fill="#222"/><rect x="529.5999999999999" y="185.3" width="3.4" height="2.4" rx="0.6" fill="#222"/><rect x="529.5999999999999" y="189.10000000000002" width="3.4" height="2.4" rx="0.6" fill="#222"/><path d="M423.86,140.70 L422.00,150.00 L426.19,150.00 " fill="none" stroke="#3c3c3c" stroke-width="0.75" stroke-linejoin="round" stroke-linecap="round"/><line x1="420.6" y1="150.8" x2="430" y2="150.8" stroke="#4a4a4a" stroke-width="0.55" /><line x1="430" y1="150.8" x2="477" y2="182" stroke="#4a4a4a" stroke-width="0.55" /><line x1="430" y1="150.8" x2="497" y2="173.5" stroke="#4a4a4a" stroke-width="0.55" /><path d="M571.00,148.50 L573.04,140.00 L575.67,148.50 L577.71,140.00 " fill="none" stroke="#3c3c3c" stroke-width="0.75" stroke-linejoin="round" stroke-linecap="round"/><line x1="569.3" y1="150.4" x2="580.4" y2="150.4" stroke="#4a4a4a" stroke-width="0.55" /><line x1="569.3" y1="150.4" x2="539" y2="176" stroke="#4a4a4a" stroke-width="0.55" /><line x1="569.3" y1="150.4" x2="543" y2="171" stroke="#4a4a4a" stroke-width="0.55" /><path d="M553.22,224.80 L550.70,235.30 M559.00,224.80 L551.66,231.31 M553.89,229.21 L556.48,235.30 " fill="none" stroke="#3c3c3c" stroke-width="0.75" stroke-linejoin="round" stroke-linecap="round"/><line x1="549.4" y1="236.4" x2="559" y2="236.4" stroke="#4a4a4a" stroke-width="0.55" /><line x1="549.4" y1="236.4" x2="522" y2="205" stroke="#4a4a4a" stroke-width="0.55" /><line x1="549.4" y1="236.4" x2="531.3" y2="197" stroke="#4a4a4a" stroke-width="0.55" /></g>
<g><rect x="424.25" y="320.5" width="323.75" height="58.25" fill="none" stroke="#555" stroke-width="0.7"/><line x1="424.25" y1="330.5" x2="748" y2="330.5" stroke="#555" stroke-width="0.6" /><line x1="474.25" y1="320.5" x2="474.25" y2="378.75" stroke="#555" stroke-width="0.6" /><line x1="524.25" y1="320.5" x2="524.25" y2="378.75" stroke="#555" stroke-width="0.6" /><line x1="556.75" y1="320.5" x2="556.75" y2="378.75" stroke="#555" stroke-width="0.6" /><line x1="589.25" y1="320.5" x2="589.25" y2="378.75" stroke="#555" stroke-width="0.6" /><line x1="620.7" y1="320.5" x2="620.7" y2="378.75" stroke="#555" stroke-width="0.6" /><line x1="652.2" y1="320.5" x2="652.2" y2="378.75" stroke="#555" stroke-width="0.6" /><line x1="684.5" y1="320.5" x2="684.5" y2="378.75" stroke="#555" stroke-width="0.6" /><line x1="716.5" y1="320.5" x2="716.5" y2="378.75" stroke="#555" stroke-width="0.6" /><text x="449.25" y="328.6" font-size="7.5" text-anchor="middle" fill="#1a1a1a">Ax4 шт.</text><text x="499.25" y="328.6" font-size="7.5" text-anchor="middle" fill="#1a1a1a">Вx4 шт.</text><text x="540.50" y="328.6" font-size="7.5" text-anchor="middle" fill="#1a1a1a">Cx1 шт.</text><text x="573.00" y="328.6" font-size="7.5" text-anchor="middle" fill="#1a1a1a">Dx1 шт.</text><text x="604.98" y="328.6" font-size="7.5" text-anchor="middle" fill="#1a1a1a">Ex2 шт.</text><text x="636.45" y="328.6" font-size="7.5" text-anchor="middle" fill="#1a1a1a">Gx8 шт.</text><text x="668.35" y="328.6" font-size="7.5" text-anchor="middle" fill="#1a1a1a">Hx8 шт.</text><text x="700.50" y="328.6" font-size="7.5" text-anchor="middle" fill="#1a1a1a">Ix8 шт.</text><text x="732.25" y="328.6" font-size="7.5" text-anchor="middle" fill="#1a1a1a">Jx8 шт.</text><rect x="424.25" y="378.75" width="95.25" height="58.25" fill="none" stroke="#555" stroke-width="0.7"/><line x1="424.25" y1="388.75" x2="519.5" y2="388.75" stroke="#555" stroke-width="0.6" /><line x1="455.75" y1="378.75" x2="455.75" y2="437" stroke="#555" stroke-width="0.6" /><line x1="487.5" y1="378.75" x2="487.5" y2="437" stroke="#555" stroke-width="0.6" /><text x="440.00" y="386.8" font-size="7.5" text-anchor="middle" fill="#1a1a1a">Kx4 шт.</text><text x="471.62" y="386.8" font-size="7.5" text-anchor="middle" fill="#1a1a1a">Lx4 шт.</text><text x="503.50" y="386.8" font-size="7.5" text-anchor="middle" fill="#1a1a1a">Nx4 шт.</text><text x="427" y="337.8" font-size="6" fill="#333" letter-spacing="0.5">Опора</text><text x="477.3" y="337.8" font-size="5.6" fill="#333" letter-spacing="0.45">Стяжка</text><defs><clipPath id="cc"><rect x="524.5" y="331" width="96" height="10"/></clipPath></defs><g clip-path="url(#cc)" font-size="5" fill="#333" letter-spacing="0.45"><text x="525.5" y="336.5">Кронштейн</text><text x="558" y="336.5">Кронштейн</text><text x="590.5" y="336.5">Кронштейн</text></g><text x="526" y="376.4" font-size="7.6" fill="#1a1a1a">№1</text><text x="573" y="376.4" font-size="7.6" fill="#1a1a1a">№2</text><text x="605.5" y="376.4" font-size="7.6" fill="#1a1a1a">№3</text><text x="636" y="374.4" font-size="7.3" fill="#1a1a1a" text-anchor="middle">M6x35</text><text x="667" y="374.4" font-size="7.6" fill="#1a1a1a" text-anchor="middle">M6</text><text x="700.8" y="369.8" font-size="7.6" fill="#1a1a1a" text-anchor="middle">φ6</text><text x="700.8" y="375.6" font-size="4.6" fill="#333" text-anchor="middle">(зубчатая)</text><text x="732.5" y="368.3" font-size="6.3" fill="#1a1a1a" text-anchor="middle">Колпачок</text><text x="732.5" y="374.4" font-size="6.3" fill="#1a1a1a" text-anchor="middle">пластик.</text><text x="440" y="432.6" font-size="7.3" fill="#1a1a1a" text-anchor="middle">M6x12</text><text x="471.6" y="428.2" font-size="7.6" fill="#1a1a1a" text-anchor="middle">φ6</text><text x="471.6" y="433.8" font-size="4.6" fill="#333" text-anchor="middle">(увелич.)</text><text x="503.5" y="428.2" font-size="7.6" fill="#1a1a1a" text-anchor="middle">φ6</text><text x="503.5" y="433.8" font-size="4.6" fill="#333" text-anchor="middle">(зубчатая)</text><path d="M431,366.5 L468.5,345.3 L470.8,346.5 L470.5,348.8 L433,370 L430.8,369 Z" fill="#fff" stroke="#333" stroke-width="0.6"/><path d="M431,366.5 L468.5,345.3 M433,370 L431,366.5 M470.5,348.8 L468.5,345.3" fill="none" stroke="#333" stroke-width="0.5"/><path d="M432,368.2 L469.6,347" stroke="#555" stroke-width="1.3"/><line x1="487.5" y1="345" x2="517.5" y2="373.5" stroke="#555" stroke-width="2.20" stroke-linecap="round"/><line x1="487.5" y1="345" x2="517.5" y2="373.5" stroke="#fff" stroke-width="1.20" stroke-linecap="round"/><line x1="480" y1="367.5" x2="512.5" y2="348.8" stroke="#555" stroke-width="2.20" stroke-linecap="round"/><line x1="480" y1="367.5" x2="512.5" y2="348.8" stroke="#fff" stroke-width="1.20" stroke-linecap="round"/><path d="M533,343.5 L544,343.5 L547,345.5 L543,360.5 L540,363.8 L536.5,362 L540.5,347 L533,346 Z" fill="#fff" stroke="#444" stroke-width="0.6"/><circle cx="539.5" cy="359.5" r="0.8" stroke="#555" stroke-width="0.5" fill="none"/><path d="M561,344 L566,341.5 L569,343 L578.5,360.5 L575,364 L571.5,363.5 L563.5,348.5 Z" fill="#fff" stroke="#444" stroke-width="0.6"/><circle cx="574" cy="360" r="0.8" stroke="#555" stroke-width="0.5" fill="none"/><path d="M592,347 L607.5,347 L611,349 L612.8,357 L610.5,359 L608,358 L605.5,350 L592,349.5 Z" fill="#fff" stroke="#444" stroke-width="0.6"/><rect x="594" y="347.3" width="6" height="1.6" fill="#333"/><path d="M631,344.3 C627,344.3 627,353 631,353 C633,353 633.5,350.5 634,350.5 L645.5,350.5 L645.5,347 L634,347 C633.5,347 633,344.3 631,344.3 Z" fill="#fff" stroke="#444" stroke-width="0.6"/><path d="M662.6,347.8 L664.6,345.4 L669.8,345.4 L671.8,347.8 L671.8,350.6 L669.8,352.8 L664.6,352.8 L662.6,350.6 Z" fill="#fff" stroke="#444" stroke-width="0.6"/><ellipse cx="667.2" cy="348.3" rx="3.6" ry="1.9" transform="rotate(0 667.2 348.3)" stroke="#444" stroke-width="0.5" fill="none"/><ellipse cx="667.2" cy="348.3" rx="1.8" ry="0.9" transform="rotate(0 667.2 348.3)" stroke="#555" stroke-width="0.45" fill="none"/><line x1="664.6" y1="350" x2="664.6" y2="352.6" stroke="#555" stroke-width="0.45" /><line x1="669.8" y1="350" x2="669.8" y2="352.6" stroke="#555" stroke-width="0.45" /><ellipse cx="701.3" cy="346.8" rx="7" ry="2.8" transform="rotate(0 701.3 346.8)" stroke="#444" stroke-width="0.6" fill="none"/><ellipse cx="701.3" cy="346.6" rx="3.8" ry="1.3" transform="rotate(0 701.3 346.6)" stroke="#444" stroke-width="0.6" fill="none"/><path d="M694.5,347.5 Q701.3,352 708.2,347.5" fill="none" stroke="#444" stroke-width="0.6"/><g transform="rotate(40 730.5 348)"><rect x="726.5" y="343.5" width="8" height="9" rx="2" fill="#fff" stroke="#444" stroke-width="0.6"/><ellipse cx="730.5" cy="345.5" rx="3" ry="1.5" fill="none" stroke="#444" stroke-width="0.5"/></g><path d="M436.2,409.6 L436.2,397.5 Q436.2,395.3 438.2,395.3 Q440.2,395.3 440.2,397.5 L440.2,409.6" fill="#fff" stroke="#444" stroke-width="0.6"/><line x1="437.2" y1="397" x2="437.2" y2="409.4" stroke="#888" stroke-width="0.4" /><path d="M433,411.2 L434.6,409.6 L441,409.6 L442.6,411.2 L442.6,413.5 L441,415 L434.6,415 L433,413.5 Z" fill="#fff" stroke="#444" stroke-width="0.6"/><line x1="433.3" y1="411.6" x2="442.3" y2="411.6" stroke="#555" stroke-width="0.45" /><line x1="435.8" y1="411.6" x2="435.8" y2="415" stroke="#555" stroke-width="0.45" /><line x1="439.8" y1="411.6" x2="439.8" y2="415" stroke="#555" stroke-width="0.45" /><ellipse cx="470.2" cy="404.5" rx="7.8" ry="4.4" transform="rotate(0 470.2 404.5)" stroke="#444" stroke-width="0.6" fill="none"/><ellipse cx="470.2" cy="404.2" rx="3" ry="1.5" transform="rotate(0 470.2 404.2)" stroke="#444" stroke-width="0.6" fill="none"/><ellipse cx="503.8" cy="405.4" rx="6.6" ry="4.1" transform="rotate(0 503.8 405.4)" stroke="#444" stroke-width="0.6" fill="none"/><ellipse cx="503.8" cy="405.2" rx="3.6" ry="2.3" transform="rotate(0 503.8 405.2)" stroke="#444" stroke-width="0.6" fill="none"/><ellipse cx="503.8" cy="405.3" rx="5.1" ry="3.2" transform="rotate(0 503.8 405.3)" stroke="#777" stroke-width="0.4" fill="none"/></g></svg>
</body></html>
